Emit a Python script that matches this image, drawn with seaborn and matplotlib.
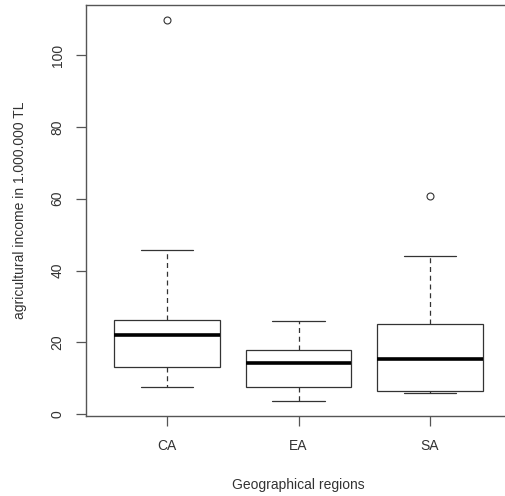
import numpy as np
import pandas as pd
import matplotlib
matplotlib.use("Agg")
import matplotlib.pyplot as plt
import seaborn as sns

# sample values chosen so the box statistics match the picture
regions = ["CA", "EA", "SA"]
ca_income = [7.5, 10.0, 13.3, 18.0, 22.0, 24.0, 26.25, 45.6, 109.6]
ea_income = [3.7, 5.0, 7.5, 12.0, 14.4, 16.0, 17.9, 22.0, 26.1]
sa_income = [5.8, 6.2, 6.6, 10.0, 15.5, 20.0, 25.1, 44.0, 60.8]
y_ticks = [0, 20, 40, 60, 80, 100]

df = pd.DataFrame({
    "region": np.repeat(regions, [len(ca_income), len(ea_income), len(sa_income)]),
    "income": ca_income + ea_income + sa_income,
})

sns.set_style("white")
plt.rcParams["font.family"] = ["Liberation Sans", "DejaVu Sans"]

fig = plt.figure(figsize=(5.05, 4.96), dpi=100)
ax = fig.add_axes([85.5 / 505, 1 - 415.6 / 496, 426 / 505, (415.6 - 5) / 496])

line_c = "#333333"
sns.boxplot(
    data=df, x="region", y="income", order=regions, ax=ax,
    width=0.8, color="white", linecolor=line_c, linewidth=0.9,
    whis=1.5, fliersize=5,
    boxprops=dict(facecolor="white", edgecolor=line_c),
    medianprops=dict(color="black", linewidth=2.6),
    whiskerprops=dict(color=line_c, linestyle=(0, (4, 3))),
    capprops=dict(color=line_c),
    flierprops=dict(marker="o", markerfacecolor="none", markeredgecolor=line_c,
                    markeredgewidth=0.8),
)

ax.set_xlim(-0.62, 2.62)
ax.set_ylim(-0.36, 113.9)
ax.set_yticks(y_ticks)
ax.set_xlabel("Geographical regions", fontsize=10, color="#333333", labelpad=18)
ax.set_ylabel("agricultural income in 1.000.000 TL", fontsize=10, color="#333333", labelpad=17)
ax.tick_params(axis="both", direction="out", length=7, width=0.9, color="#555555",
               labelsize=10, labelcolor="#333333", left=True, bottom=True)
ax.tick_params(axis="x", pad=10)
ax.tick_params(axis="y", labelrotation=90, pad=8)
for lab in ax.get_yticklabels():
    lab.set_va("center")
for s in ax.spines.values():
    s.set_color("#555555")
    s.set_linewidth(1.0)

fig.savefig("out.png", dpi=100)
